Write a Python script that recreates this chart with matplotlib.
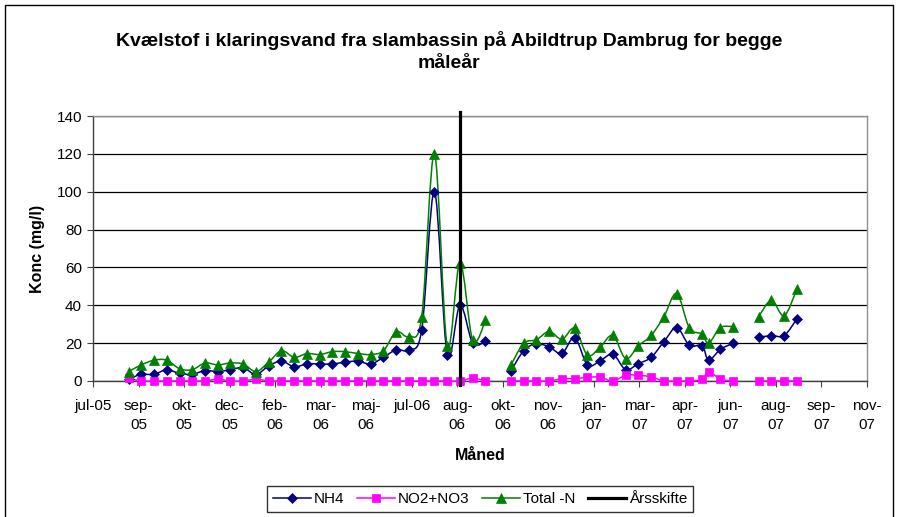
import numpy as np
import pandas as pd
import matplotlib
matplotlib.use("Agg")
import matplotlib.pyplot as plt
from matplotlib.path import Path
from matplotlib.patches import PathPatch, Rectangle
from matplotlib.lines import Line2D
import matplotlib.dates as mdates

plt.rcParams['font.family'] = ['Liberation Sans', 'DejaVu Sans']

# ---------------- data ----------------
dates = [
    "2005-08-25", "2005-09-08", "2005-09-22", "2005-10-06", "2005-10-20", "2005-11-03",
    "2005-11-17", "2005-12-01", "2005-12-15", "2005-12-29", "2006-01-12", "2006-01-26",
    "2006-02-09", "2006-02-23", "2006-03-09", "2006-03-23", "2006-04-06", "2006-04-20",
    "2006-05-04", "2006-05-18", "2006-06-01", "2006-06-15", "2006-06-29", "2006-07-13",
    "2006-07-27", "2006-08-10", "2006-08-24", "2006-09-07", "2006-09-21", "2006-10-05",
    "2006-10-19", "2006-11-02", "2006-11-16", "2006-11-30", "2006-12-14", "2006-12-28",
    "2007-01-11", "2007-01-25", "2007-02-08", "2007-02-22", "2007-03-08", "2007-03-22",
    "2007-04-05", "2007-04-19", "2007-05-03", "2007-05-17", "2007-05-24", "2007-06-06",
    "2007-06-20", "2007-07-04", "2007-07-18", "2007-08-01", "2007-08-15", "2007-08-29",
]

nh4 = [
    1.0, 3.5, 3.5, 6.0, 4.0, 3.5, 5.5, 5.0, 6.0, 7.0, 3.5, 8.0,
    10.5, 7.5, 9.0, 9.0, 9.0, 10.0, 10.5, 9.0, 12.5, 16.5, 16.5, 27.0,
    100.0, 14.0, 40.0, 20.0, 21.0, None,
    5.3, 16.0, 19.7, 18.0, 14.6, 22.9, 8.5, 10.7, 14.1, 6.0, 9.2, 12.5,
    20.8, 28.2, 18.8, 18.7, 11.0, 16.7, 20.0, None, 23.0, 24.0, 24.0, 32.8,
]

no2no3 = [
    1.5, 0.0, 0.0, 0.0, 0.0, 0.0, 0.0, 1.0, 0.0, 0.0, 1.0, 0.0,
    0.0, 0.0, 0.0, 0.0, 0.0, 0.0, 0.0, 0.0, 0.0, 0.0, 0.0, 0.0,
    0.0, 0.0, 0.0, 1.5, 0.0, None,
    0.0, 0.0, 0.0, 0.0, 1.2, 1.2, 2.0, 2.0, 0.0, 3.0, 3.0, 2.2,
    0.0, 0.0, 0.0, 1.0, 5.0, 1.0, 0.0, None, 0.0, 0.0, 0.0, 0.0,
]

total_n = [
    5.0, 8.5, 11.0, 11.0, 6.5, 6.0, 9.5, 8.5, 9.5, 9.0, 5.0, 10.0,
    16.0, 12.5, 14.5, 14.0, 15.5, 15.5, 14.5, 14.0, 16.0, 26.0, 23.5, 34.0,
    120.0, 18.5, 62.5, 21.5, 32.0, None,
    8.5, 19.9, 21.8, 26.2, 22.0, 27.8, 13.6, 17.9, 24.1, 11.8, 18.6, 24.1,
    34.0, 46.2, 28.0, 24.8, 19.9, 28.2, 28.7, None, 34.0, 42.6, 34.5, 48.5,
]

aarsskifte_date = "2006-08-24"

xtick_labels = ["jul-05", "sep-\n05", "okt-\n05", "dec-\n05", "feb-\n06", "mar-\n06",
                "maj-\n06", "jul-06", "aug-\n06", "okt-\n06", "nov-\n06", "jan-\n07",
                "mar-\n07", "apr-\n07", "jun-\n07", "aug-\n07", "sep-\n07", "nov-\n07"]
axis_start = "2005-07-17"
tick_step_days = 50

series_names = ["NH4", "NO2+NO3", "Total -N", "Årsskifte"]

# ---------------- figure ----------------
W, H = 899, 517
fig = plt.figure(figsize=(W / 100, H / 100), dpi=100)
ax = fig.add_axes([93 / W, (H - 381) / H, 774 / W, 265 / H])

xd = mdates.date2num(pd.to_datetime(dates))


def to_arr(v):
    return np.array([np.nan if a is None else a for a in v], dtype=float)


def smooth_path(x, y):
    verts, codes = [], []
    ok = ~np.isnan(y)
    i = 0
    n = len(x)
    while i < n:
        if not ok[i]:
            i += 1
            continue
        j = i
        while j < n and ok[j]:
            j += 1
        px = x[i:j]
        py = y[i:j]
        m = len(px)
        if m >= 2:
            P = np.column_stack([px, py])
            verts.append(P[0]); codes.append(Path.MOVETO)
            for k in range(m - 1):
                p_prev = P[k - 1] if k > 0 else P[k]
                p_next2 = P[k + 2] if k + 2 < m else P[k + 1]
                c1 = P[k] + (P[k + 1] - p_prev) / 6.0
                c2 = P[k + 1] - (p_next2 - P[k]) / 6.0
                verts += [c1, c2, P[k + 1]]
                codes += [Path.CURVE4] * 3
        i = j
    return Path(np.array(verts), codes)


styles = [
    dict(color="#000080", marker="D", ms=5.0),
    dict(color="#FF00FF", marker="s", ms=5.8),
    dict(color="#008000", marker="^", ms=6.8),
]

handles = []
for vals, st, name in zip([nh4, no2no3, total_n], styles, series_names[:3]):
    y = to_arr(vals)
    path = smooth_path(xd, y)
    ax.add_patch(PathPatch(path, facecolor="none", edgecolor=st["color"], lw=1.1,
                           zorder=3, clip_on=False))
    ax.plot(xd, y, linestyle="none", marker=st["marker"], ms=st["ms"],
            color=st["color"], mec=st["color"], mew=0.5, zorder=4, clip_on=False)
    handles.append(Line2D([], [], color=st["color"], lw=1.1, marker=st["marker"],
                          ms=st["ms"], mec=st["color"], mew=0.5))

xa = mdates.date2num(pd.Timestamp(aarsskifte_date))
ax.axvline(xa, ymin=-0.015, ymax=1.015, color="black", lw=2.3, zorder=5, clip_on=False)
handles.append(Line2D([], [], color="black", lw=2.3))

# axes
x0 = pd.Timestamp(axis_start)
tick_dates = pd.date_range(x0, periods=len(xtick_labels), freq=f"{tick_step_days}D")
tnum = mdates.date2num(tick_dates)
ax.set_xlim(tnum[0], tnum[-1])
ax.set_xticks(tnum)
ax.set_xticklabels(xtick_labels, fontsize=11, linespacing=1.45)
ax.set_ylim(0, 140)
ax.set_yticks(np.arange(0, 141, 20))
ax.set_yticklabels([str(v) for v in range(0, 141, 20)], fontsize=11)
ax.yaxis.grid(True, color="black", lw=0.9)
ax.set_axisbelow(True)
ax.tick_params(axis="x", direction="out", length=4, width=0.8, pad=9, color="#404040")
ax.tick_params(axis="y", direction="out", length=4, width=0.8, pad=4, color="#404040")
for s in ["top", "right"]:
    ax.spines[s].set_color("#909090")
    ax.spines[s].set_linewidth(1.0)
for s in ["left", "bottom"]:
    ax.spines[s].set_color("#404040")
    ax.spines[s].set_linewidth(1.0)

ax.set_ylabel("Konc (mg/l)", fontsize=11.5, fontweight="bold", ha="center", va="center")
ax.yaxis.set_label_coords((37 - 93) / 774, 0.5)
ax.set_xlabel("Måned", fontsize=11.5, fontweight="bold", ha="center", va="center")
ax.xaxis.set_label_coords(0.5, (381 - 455) / 265)

fig.text(449 / W, 1 - 40 / H, "Kvælstof i klaringsvand fra slambassin på Abildtrup Dambrug for begge",
         ha="center", va="center", fontsize=14, fontweight="bold")
fig.text(449 / W, 1 - 64 / H, "måleår", ha="center", va="center", fontsize=14, fontweight="bold")

leg = fig.legend(handles, series_names, loc="upper center", bbox_to_anchor=(480 / W, 1 - 486 / H),
                 ncol=4, frameon=True, fancybox=False, edgecolor="black", fontsize=11,
                 handlelength=2.5, handletextpad=0.2, columnspacing=0.8, borderpad=0.4,
                 borderaxespad=0)
leg.get_frame().set_linewidth(1.0)

fig.add_artist(Rectangle((5 / W, -0.2), 888 / W, 1.2 - 5 / H, transform=fig.transFigure,
                         fill=False, edgecolor="black", lw=1.0))

fig.savefig("out.png", dpi=100)
